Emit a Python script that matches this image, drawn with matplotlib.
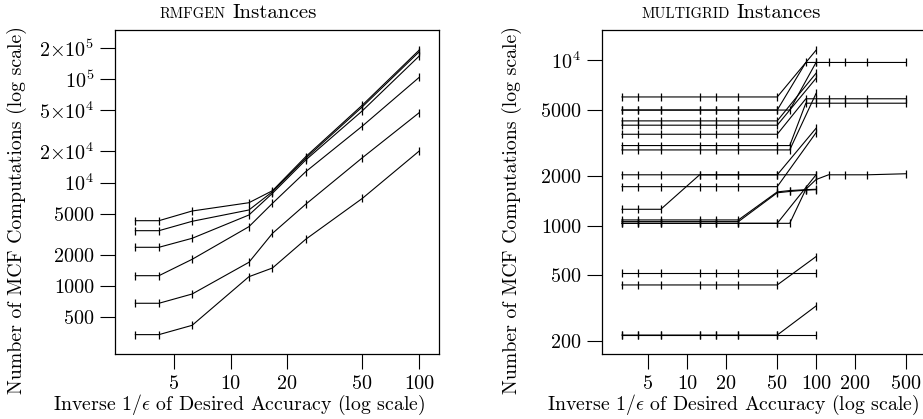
import matplotlib
matplotlib.use('Agg')
import matplotlib.pyplot as plt
from matplotlib.ticker import FixedLocator, FixedFormatter, NullLocator

plt.rcParams['font.family'] = ['cmr10', 'DejaVu Serif']
plt.rcParams['mathtext.fontset'] = 'cm'
plt.rcParams['axes.formatter.use_mathtext'] = True
plt.rcParams['axes.unicode_minus'] = False

# ---------------- data: RMFGEN panel ----------------
rmf_x = [3.125, 4.167, 6.25, 12.5, 16.67, 25, 50, 100]
rmf_s1 = [4276, 4276, 5305, 6378, 8336, 17750, 56100, 190500]
rmf_s2 = [3424, 3424, 4218, 5425, 8150, 17140, 54000, 183500]
rmf_s3 = [2366, 2366, 2890, 4853, 7870, 16490, 49400, 166700]
rmf_s4 = [1258, 1258, 1811, 3742, 6295, 12710, 35160, 103800]
rmf_s5 = [681, 681, 837, 1694, 3228, 6160, 17380, 47300]
rmf_s6 = [339, 339, 417, 1230, 1493, 2827, 7036, 20150]
rmf_series = [rmf_s1, rmf_s2, rmf_s3, rmf_s4, rmf_s5, rmf_s6]

rmf_xticks = [5, 10, 20, 50, 100]
rmf_xticklabels = ['5', '10', '20', '50', '100']
rmf_yticks = [500, 1000, 2000, 5000, 1e4, 2e4, 5e4, 1e5, 2e5]
rmf_yticklabels = ['500', '1000', '2000', '5000', r'$10^4$', r'$2{\times}10^4$',
                   r'$5{\times}10^4$', r'$10^5$', r'$2{\times}10^5$']

# ---------------- data: MULTIGRID panel ----------------
mg_base_x = [3.125, 4.167, 6.25, 12.5, 16.67, 25, 50]
mg_tail_x = [83.33, 100, 125, 166.7, 250, 500]

mg_m1_x = mg_base_x + [100]
mg_m1_y = [6000] * 7 + [11500]
mg_m2_x = mg_base_x + mg_tail_x
mg_m2_y = [5000] * 7 + [9700] * 6
mg_m3_x = mg_base_x + [62.5, 100]
mg_m3_y = [5000] * 8 + [9700]
mg_m4_x = mg_base_x + [100]
mg_m4_y = [4300] * 7 + [8350]
mg_m5_x = mg_base_x + [100]
mg_m5_y = [4050] * 7 + [7780]
mg_m6_x = mg_base_x + mg_tail_x
mg_m6_y = [3570] * 7 + [5850] * 6
mg_m7_x = mg_base_x + [62.5] + mg_tail_x
mg_m7_y = [3050] * 8 + [5500] * 6
mg_m8_x = mg_base_x + [62.5, 100]
mg_m8_y = [2870] * 8 + [6300]
mg_m9_x = mg_base_x[:3] + [12.5, 16.67, 25, 50, 100]
mg_m9_y = [1256] * 3 + [2030] * 5
mg_m10_x = mg_base_x + [100]
mg_m10_y = [2030] * 7 + [3880]
mg_m11_x = mg_base_x + [100]
mg_m11_y = [1721] * 7 + [3650]
mg_m12_x = mg_base_x[:6] + [50, 62.5, 83.33, 100]
mg_m12_y = [1083] * 6 + [1600, 1630, 1650, 1660]
mg_m13_x = mg_base_x[:6] + [50, 62.5, 83.33, 100]
mg_m13_y = [1058] * 6 + [1580, 1610, 1640, 1650]
mg_m14_x = mg_base_x + [100]
mg_m14_y = [1033] * 7 + [2030]
mg_m15_x = mg_base_x + [62.5, 83.33, 100, 125, 166.7, 250, 500]
mg_m15_y = [1033] * 8 + [1660, 1900, 2030, 2030, 2030, 2060]
mg_m16_x = mg_base_x + [100]
mg_m16_y = [520] * 8
mg_m17_x = mg_base_x + [100]
mg_m17_y = [438] * 7 + [650]
mg_m18_x = mg_base_x + [100]
mg_m18_y = [218] * 8
mg_m19_x = mg_base_x + [100]
mg_m19_y = [218] * 7 + [327]

mg_series = [
    (mg_m1_x, mg_m1_y), (mg_m2_x, mg_m2_y), (mg_m3_x, mg_m3_y), (mg_m4_x, mg_m4_y),
    (mg_m5_x, mg_m5_y), (mg_m6_x, mg_m6_y), (mg_m7_x, mg_m7_y), (mg_m8_x, mg_m8_y),
    (mg_m9_x, mg_m9_y), (mg_m10_x, mg_m10_y), (mg_m11_x, mg_m11_y), (mg_m12_x, mg_m12_y),
    (mg_m13_x, mg_m13_y), (mg_m14_x, mg_m14_y), (mg_m15_x, mg_m15_y), (mg_m16_x, mg_m16_y),
    (mg_m17_x, mg_m17_y), (mg_m18_x, mg_m18_y), (mg_m19_x, mg_m19_y),
]

mg_xticks = [5, 10, 20, 50, 100, 200, 500]
mg_xticklabels = ['5', '10', '20', '50', '100', '200', '500']
mg_yticks = [200, 500, 1000, 2000, 5000, 1e4]
mg_yticklabels = ['200', '500', '1000', '2000', '5000', r'$10^4$']

xlabel_text = r'Inverse $1/\epsilon$ of Desired Accuracy (log scale)'
ylabel_text = 'Number of MCF Computations (log scale)'

# ---------------- figure ----------------
W, H = 923, 419
fig = plt.figure(figsize=(W / 100, H / 100), dpi=100)

def px_axes(x0, x1, ytop, ybot):
    return fig.add_axes([x0 / W, 1 - ybot / H, (x1 - x0) / W, (ybot - ytop) / H])

ax1 = px_axes(115, 439, 30, 354)
ax2 = px_axes(602, 945, 30, 354)

TICK_FS = 14.5
LABEL_FS = 14.3

def style(ax, xt, xtl, yt, ytl, xlim, ylim):
    ax.set_xscale('log')
    ax.set_yscale('log')
    ax.set_xlim(*xlim)
    ax.set_ylim(*ylim)
    ax.xaxis.set_major_locator(FixedLocator(xt))
    ax.xaxis.set_major_formatter(FixedFormatter(xtl))
    ax.yaxis.set_major_locator(FixedLocator(yt))
    ax.yaxis.set_major_formatter(FixedFormatter(ytl))
    ax.xaxis.set_minor_locator(NullLocator())
    ax.yaxis.set_minor_locator(NullLocator())
    ax.tick_params(which='major', direction='out', length=11, width=0.8,
                   pad=4, labelsize=TICK_FS, colors='black')
    for s in ax.spines.values():
        s.set_linewidth(0.9)
        s.set_color('black')

style(ax1, rmf_xticks, rmf_xticklabels, rmf_yticks, rmf_yticklabels,
      (2.437, 127.3), (220.3, 297500))
style(ax2, mg_xticks, mg_xticklabels, mg_yticks, mg_yticklabels,
      (2.188, 1000), (167.5, 15240))

line_kw = dict(color='black', linewidth=0.8, marker='|', markersize=6,
               markeredgewidth=0.9, solid_joinstyle='miter')
for ys in rmf_series:
    ax1.plot(rmf_x, ys, **line_kw)
for xs, ys in mg_series:
    ax2.plot(xs, ys, **line_kw)

# axis labels
fig.text(239 / W, 1 - 410 / H, xlabel_text, ha='center', va='baseline', fontsize=LABEL_FS)
fig.text(733 / W, 1 - 410 / H, xlabel_text, ha='center', va='baseline', fontsize=LABEL_FS)
fig.text(17 / W, 1 - 210 / H, ylabel_text, ha='center', va='center', rotation=90, fontsize=LABEL_FS)
fig.text(512 / W, 1 - 210 / H, ylabel_text, ha='center', va='center', rotation=90, fontsize=LABEL_FS)

# small-caps titles
def sc_title(x_px, base_px, caps, rest, caps_size, size):
    t1 = fig.text(x_px / W, 1 - base_px / H, caps, ha='left', va='baseline',
                  fontsize=caps_size)
    fig.canvas.draw()
    bb = t1.get_window_extent()
    fig.text((bb.x1 + size * 0.4) / W, 1 - base_px / H, rest, ha='left',
             va='baseline', fontsize=size)

sc_title(160, 18.5, 'RMFGEN', 'Instances', 10.5, 15)
sc_title(642, 18.5, 'MULTIGRID', 'Instances', 10.5, 15)

fig.savefig('out.png', dpi=100)
